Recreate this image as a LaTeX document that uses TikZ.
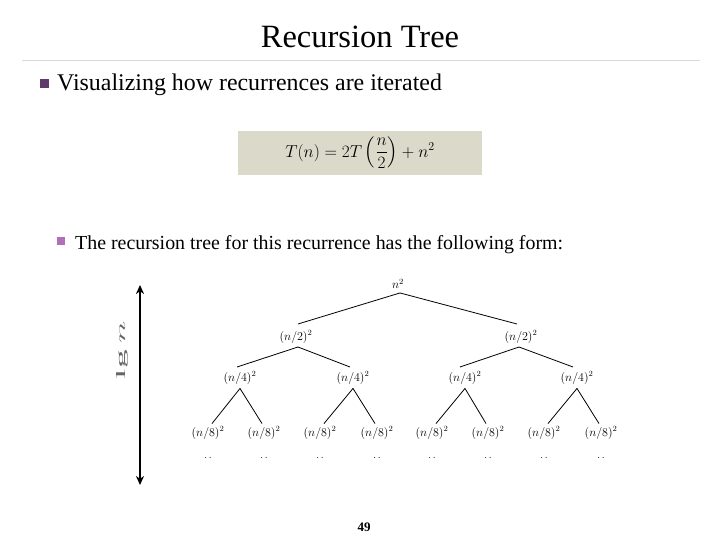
\documentclass[tikz,border=0pt]{standalone}
\usepackage{fontspec}
\setmainfont{Liberation Serif}
\usepackage{amsmath}
\usetikzlibrary{arrows.meta}
\definecolor{bulA}{HTML}{5E3B6A}
\definecolor{bulB}{HTML}{B070B8}
\definecolor{eqbg}{HTML}{DBD9C9}
\definecolor{rule}{HTML}{DADADA}
\begin{document}
\begin{tikzpicture}[x=1pt,y=-1pt,
  tn/.style={inner sep=1pt, font=\fontsize{11.5}{13}\selectfont},
  edge/.style={line width=0.8pt},
  dots/.style={inner sep=0pt, font=\fontsize{10}{12}\selectfont}]
\useasboundingbox (0,0) rectangle (720,540);
% title
\node[font=\fontsize{32.5}{36}\selectfont] (title) at (360,37) {Recursion Tree};
\draw[rule, line width=0.8pt] (22,60) -- (700,60);
% bullet 1
\fill[bulA] (40,79) rectangle (49,88);
\node[anchor=base west, inner sep=0pt, font=\fontsize{23.9}{28}\selectfont] (b1) at (57,91) {Visualizing how recurrences are iterated};
% equation box
\node[fill=eqbg, minimum width=244pt, minimum height=44pt, inner sep=0pt, font=\fontsize{18.5}{20}\selectfont] (eq) at (360,153) {$T(n)=2T\left(\dfrac{n}{2}\right)+n^2$};
% bullet 2
\fill[bulB] (57,237) rectangle (65,245);
\node[anchor=base west, inner sep=0pt, font=\fontsize{19.9}{22}\selectfont] (b2) at (75,249) {The recursion tree for this recurrence has the following form:};
% tree
\node[tn] (r) at (398,284) {$n^2$};
\node[tn] (a1) at (296,337) {$(n/2)^2$};
\node[tn] (a2) at (521,337) {$(n/2)^2$};
\node[tn] (c1) at (240,378) {$(n/4)^2$};
\node[tn] (c2) at (353,378) {$(n/4)^2$};
\node[tn] (c3) at (465,378) {$(n/4)^2$};
\node[tn] (c4) at (577,378) {$(n/4)^2$};
\foreach \i/\x in {1/208,2/264,3/320,4/377,5/432,6/488,7/544,8/601}{
  \node[tn] (d\i) at (\x,433) {$(n/8)^2$};
  \node[dots] (e\i) at (\x,458) {$\cdot\,\cdot$};
}
\draw[edge] (r.south) ++(2,3) coordinate (rs) -- (298,324);
\draw[edge] (rs) -- (517,324);
\draw[edge] (298,347) -- (237,367);
\draw[edge] (298,347) -- (350,367);
\draw[edge] (519,347) -- (460,367);
\draw[edge] (519,347) -- (573,367);
\foreach \p/\l/\r in {c1/d1/d2,c2/d3/d4,c3/d5/d6,c4/d7/d8}{
  \draw[edge] ([yshift=-3pt]\p.south) -- ([xshift=4pt,yshift=2pt]\l.north);
  \draw[edge] ([yshift=-3pt]\p.south) -- ([xshift=-2pt,yshift=2pt]\r.north);
}
% height arrow
\coordinate (top) at (140,285);
\coordinate (bot) at (140,485);
\draw[line width=2.4pt, {Stealth[length=9pt,width=8pt]}-{Stealth[length=9pt,width=8pt]}] (top) -- (bot);
\node[rotate=90, inner sep=0pt, text=black!60] (lg) at (122,350) {\resizebox{58pt}{9pt}{$\lg n$}};
% page number
\node[font=\bfseries\fontsize{13}{15}\selectfont] (pg) at (364,527) {49};
\end{tikzpicture}
\end{document}
